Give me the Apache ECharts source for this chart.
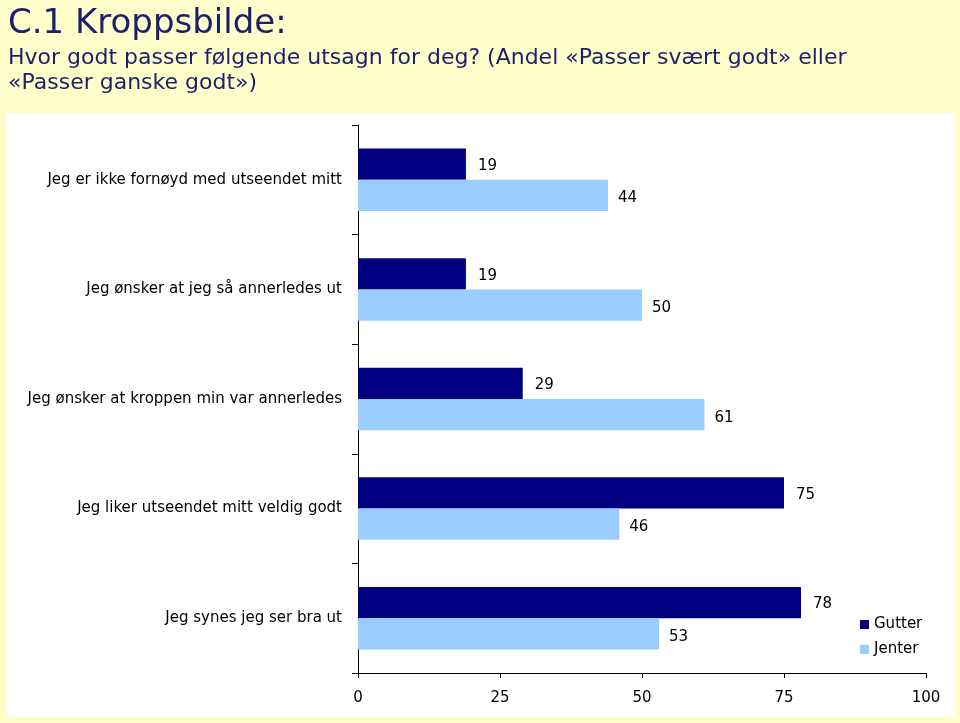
<!DOCTYPE html>
<html>
<head>
<meta charset="utf-8">
<script src="https://cdn.jsdelivr.net/npm/echarts@6/dist/echarts.min.js"></script>
<style>
  html, body { margin: 0; padding: 0; background: #FFFFCC; }
  #Grf { width: 960px; height: 723px; }
</style>
</head>
<body>
<div id="Grf"></div>
<script>
// utsagn, ovenfra og ned
const kategorier = [
  'Jeg er ikke fornøyd med utseendet mitt',
  'Jeg ønsker at jeg så annerledes ut',
  'Jeg ønsker at kroppen min var annerledes',
  'Jeg liker utseendet mitt veldig godt',
  'Jeg synes jeg ser bra ut'
];
const gutter = [19, 19, 29, 75, 78];
const jenter = [44, 50, 61, 46, 53];
const xTicks = [0, 25, 50, 75, 100];

const tekstFont = 'DejaVu Sans';

const getOption = () => {
  return {
    backgroundColor: '#FFFFCC',
    animation: false,
    title: {
      text: 'C.1 Kroppsbilde:',
      subtext: 'Hvor godt passer følgende utsagn for deg? (Andel «Passer svært godt» eller\n«Passer ganske godt»)',
      left: 3,
      top: 2,
      itemGap: 5,
      textStyle: { color: '#1E1E6E', fontFamily: tekstFont, fontSize: 34, fontWeight: 'normal' },
      subtextStyle: { color: '#1E1E6E', fontFamily: tekstFont, fontSize: 22, lineHeight: 25 }
    },
    graphic: [
      {
        type: 'rect',
        z: -10,
        shape: { x: 7, y: 113, width: 948, height: 604 },
        style: { fill: '#FFFFFF' }
      }
    ],
    legend: {
      orient: 'vertical',
      left: 855,
      top: 612,
      itemWidth: 9,
      itemHeight: 9,
      itemGap: 10,
      icon: 'rect',
      textStyle: { fontFamily: tekstFont, fontSize: 15, color: '#000' },
      data: ['Gutter', 'Jenter']
    },
    grid: { left: 358, right: 34, top: 125, bottom: 50, containLabel: false },
    xAxis: {
      type: 'value',
      min: xTicks[0],
      max: xTicks[xTicks.length - 1],
      interval: 25,
      splitLine: { show: false },
      axisLine: { show: true, lineStyle: { color: '#000' } },
      axisTick: { show: true, length: 5, lineStyle: { color: '#000' } },
      axisLabel: { fontFamily: tekstFont, fontSize: 15, color: '#000', margin: 18 }
    },
    yAxis: {
      type: 'category',
      inverse: true,
      data: kategorier,
      axisLine: { show: true, lineStyle: { color: '#000' } },
      axisTick: { show: true, length: 6, lineStyle: { color: '#000' } },
      axisLabel: { fontFamily: tekstFont, fontSize: 15, color: '#000', margin: 16 }
    },
    series: [
      {
        name: 'Gutter',
        type: 'bar',
        data: gutter,
        barGap: '0%',
        barCategoryGap: '43%',
        itemStyle: { color: '#000080' },
        label: { show: true, position: 'right', distance: 12, offset: [0, 2], fontFamily: tekstFont, fontSize: 15, color: '#000' }
      },
      {
        name: 'Jenter',
        type: 'bar',
        data: jenter,
        itemStyle: { color: '#99CCFF' },
        label: { show: true, position: 'right', distance: 10, offset: [0, 3], fontFamily: tekstFont, fontSize: 15, color: '#000' }
      }
    ]
  };
};

const initCharts = () => {
  const grafica = echarts.init(document.querySelector('#Grf'));
  grafica.setOption(getOption());
};

initCharts();
</script>
</body>
</html>
